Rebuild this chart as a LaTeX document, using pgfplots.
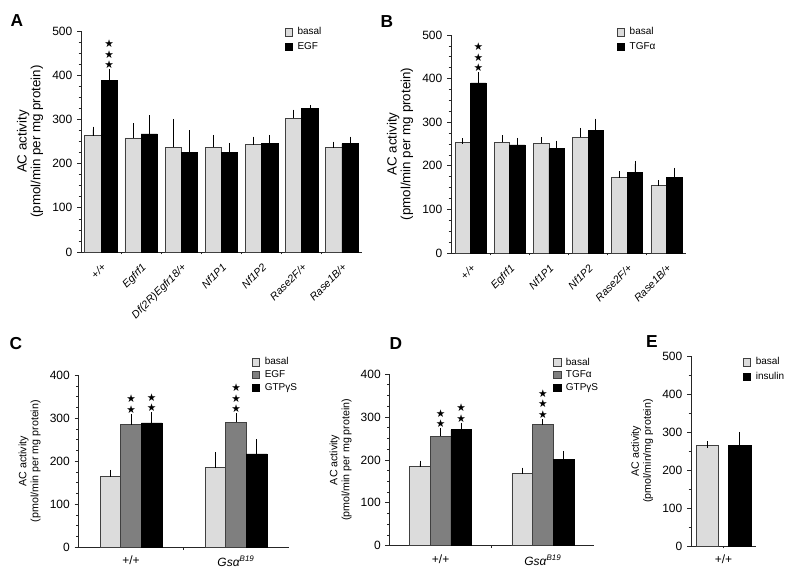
\documentclass[border=0pt]{standalone}
\usepackage{fontspec}
\setmainfont{Liberation Sans}
\newfontfamily\starfont{DejaVu Sans}
\usepackage{pgfplots}
\pgfplotsset{compat=1.18}
\definecolor{basalgray}{HTML}{DCDCDC}
\definecolor{midgray}{HTML}{7F7F7F}

\tikzset{
  stars/.style={anchor=south, inner sep=0pt, align=center, yshift=2.5pt,
    font=\starfont\fontsize{8}{8}\selectfont},
  letter/.style={font=\fontsize{13}{13}\selectfont\bfseries},
}
\pgfplotsset{
  panel/.style={
    scale only axis, anchor=south west,
    axis x line*=bottom, axis y line*=left,
    tick align=outside, enlargelimits=false, clip=false, ymin=0,
    axis line style={line width=0.6pt, black!85},
    major tick length=3pt, minor tick length=1.8pt,
    every tick/.style={line width=0.5pt, black!85},
    major x tick style={draw=none},
    minor x tick style={line width=0.6pt},
    /pgf/number format/assume math mode=true,
    ticklabel style={font=\fontsize{9}{10}\selectfont},
    ylabel style={align=center, font=\fontsize{8}{9}\selectfont},
    legend cell align=left,
    legend style={draw=none, fill=none, anchor=north west, inner sep=0pt,
      nodes={inner sep=0.5pt}, column sep=3pt,
      row sep=1.75pt, font=\fontsize{7.5}{8}\selectfont},
    error bars/y dir=plus, error bars/y explicit,
    error bars/error bar style={line width=0.6pt, black},
    error bars/error mark=-,
    error bars/error mark options={line width=0.6pt, black, mark size=2.3pt},
  },
  bigpanel/.style={
    panel,
    ylabel style={align=center, font=\fontsize{10}{8.5}\selectfont},
    legend style={row sep=3.2pt},
    xticklabel style={rotate=45, anchor=north east, font=\fontsize{8}{9}\selectfont\itshape},
    ytick={0,100,...,500}, minor y tick num=3, ymax=500,
    ybar=0pt,
  },
  sqleg/.style={legend image code/.code={\draw[##1,line width=0.5pt] (0pt,-2.7pt) rectangle (5.4pt,2.7pt);}},
  basal/.style={fill=basalgray, draw=black!75, line width=0.5pt, sqleg},
  blk/.style={fill=black, draw=black, line width=0.5pt, sqleg},
  mid/.style={fill=midgray, draw=black!75, line width=0.5pt, sqleg},
}

\begin{document}
\begin{tikzpicture}
\path[use as bounding box] (0pt,0pt) rectangle (600pt,-432pt);

% ---------- A ----------
\begin{axis}[bigpanel, at={(60.75pt,-189pt)}, width=210.75pt, height=165.75pt,
  bar width=12.2pt,
  xmin=-0.5, xmax=6.5,
  xtick={0,...,6}, minor xtick={0.5,1.5,...,5.5},
  xticklabels={+/+, Egfrf1, Df(2R)Egfr18/+, Nf1P1, Nf1P2, Rase2F/+, Rase1B/+},
  ylabel={AC activity\\(pmol/min per mg protein)},
  legend style={at={(0.725,1.019)}},
]
\addplot[basal, error bars/.cd, y dir=plus, y explicit] coordinates {
  (0,263) +- (0,14) (1,258) +- (0,26) (2,237) +- (0,57) (3,237) +- (0,21)
  (4,243) +- (0,11) (5,303) +- (0,12) (6,237) +- (0,6)};
\addlegendentry{basal}
\addplot[blk, error bars/.cd, y dir=plus, y explicit] coordinates {
  (0,388) +- (0,18) (1,267) +- (0,35) (2,225) +- (0,43) (3,225) +- (0,15)
  (4,245) +- (0,13) (5,325) +- (0,1) (6,245) +- (0,9)};
\addlegendentry{EGF}
\node[stars, xshift=6.1pt] at (axis cs:0,406) {★\\★\\★};
\end{axis}

% ---------- B ----------
\begin{axis}[bigpanel, at={(338.25pt,-189.75pt)}, width=176.25pt, height=163.5pt,
  bar width=11.6pt,
  xmin=-0.5, xmax=5.5,
  xtick={0,...,5}, minor xtick={0.5,1.5,...,4.5},
  xticklabels={+/+, Egfrf1, Nf1P1, Nf1P2, Rase2F/+, Rase1B/+},
  ylabel={AC activity\\(pmol/min per mg protein)},
  legend style={at={(0.706,1.038)}},
]
\addplot[basal, error bars/.cd, y dir=plus, y explicit] coordinates {
  (0,254) +- (0,2) (1,254) +- (0,9) (2,252) +- (0,7) (3,265) +- (0,15)
  (4,173) +- (0,8) (5,155) +- (0,5)};
\addlegendentry{basal}
\addplot[blk, error bars/.cd, y dir=plus, y explicit] coordinates {
  (0,390) +- (0,17) (1,248) +- (0,9) (2,239) +- (0,12) (3,282) +- (0,19)
  (4,184) +- (0,20) (5,173) +- (0,15)};
\addlegendentry{TGFα}
\node[stars, xshift=5.8pt] at (axis cs:0,407) {★\\★\\★};
\end{axis}

% ---------- C ----------
\begin{axis}[panel, at={(58.9pt,-410.5pt)}, width=157.5pt, height=129.2pt,
  ybar=0pt, bar width=15.5pt,
  xmin=-0.5, xmax=1.5, ymax=400,
  ytick={0,100,...,400}, minor y tick num=3,
  xtick={0,1}, minor xtick={0.5},
  xticklabels={+/+, {\itshape Gsα\textsuperscript{B19}}},
  ylabel={AC activity\\(pmol/min per mg protein)},
  legend style={at={(0.826,1.106)}},
]
\addplot[basal, error bars/.cd, y dir=plus, y explicit] coordinates {
  (0,164) +- (0,9) (1,185) +- (0,29)};
\addlegendentry{basal}
\addplot[mid, error bars/.cd, y dir=plus, y explicit] coordinates {
  (0,285) +- (0,17) (1,291) +- (0,13)};
\addlegendentry{EGF}
\addplot[blk, error bars/.cd, y dir=plus, y explicit] coordinates {
  (0,289) +- (0,17) (1,217) +- (0,27)};
\addlegendentry{GTPγS}
\node[stars] at (axis cs:0,302) {★\\★};
\node[stars, xshift=15.5pt] at (axis cs:0,306) {★\\★};
\node[stars] at (axis cs:1,304) {★\\★\\★};
\end{axis}

% ---------- D ----------
\begin{axis}[panel, at={(292.1pt,-409.3pt)}, width=153.4pt, height=128.8pt,
  ybar=0pt, bar width=15.5pt,
  xmin=-0.5, xmax=1.5, ymax=400,
  ytick={0,100,...,400}, minor y tick num=3,
  xtick={0,1}, minor xtick={0.5},
  xticklabels={+/+, {\itshape Gsα\textsuperscript{B19}}},
  ylabel={AC activity\\(pmol/min per mg protein)},
  legend style={at={(0.80,1.10)}},
]
\addplot[basal, error bars/.cd, y dir=plus, y explicit] coordinates {
  (0,184) +- (0,7) (1,169) +- (0,6)};
\addlegendentry{basal}
\addplot[mid, error bars/.cd, y dir=plus, y explicit] coordinates {
  (0,255) +- (0,11) (1,283) +- (0,5)};
\addlegendentry{TGFα}
\addplot[blk, error bars/.cd, y dir=plus, y explicit] coordinates {
  (0,270) +- (0,9) (1,202) +- (0,12)};
\addlegendentry{GTPγS}
\node[stars] at (axis cs:0,266) {★\\★};
\node[stars, xshift=15.5pt] at (axis cs:0,279) {★\\★};
\node[stars] at (axis cs:1,288) {★\\★\\★};
\end{axis}

% ---------- E ----------
\begin{axis}[panel, at={(518.25pt,-409.5pt)}, width=48.75pt, height=142.5pt,
  ybar, bar width=16.9pt,
  xmin=-1, xmax=1, ymax=500,
  ytick={0,100,...,500}, minor y tick num=1,
  xtick={0}, minor xtick={0}, xticklabels={+/+},
  ylabel={AC activity\\(pmol/min/mg protein)},
  legend style={at={(0.8,0.996)}, row sep=2.7pt},
]
\addplot[basal, bar shift=0pt, error bars/.cd, y dir=plus, y explicit] coordinates {
  (-0.5,266) +- (0,1)};
\addlegendentry{basal}
\addplot[blk, bar shift=0pt, error bars/.cd, y dir=plus, y explicit] coordinates {
  (0.5,266) +- (0,26)};
\addlegendentry{insulin}
\end{axis}

% panel letters
\node[letter] at (12.75pt,-15.75pt) {A};
\node[letter] at (290.25pt,-16.5pt) {B};
\node[letter] at (12pt,-258pt) {C};
\node[letter] at (297pt,-258pt) {D};
\node[letter] at (489pt,-256.5pt) {E};
\end{tikzpicture}
\end{document}
